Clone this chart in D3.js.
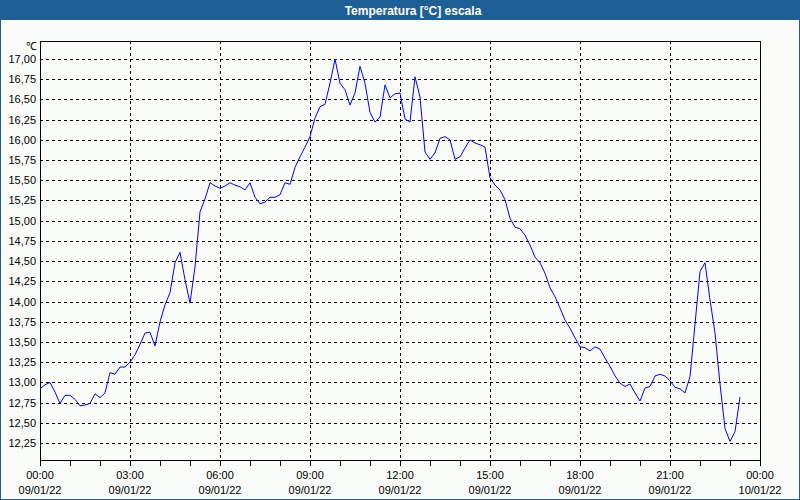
<!DOCTYPE html>
<html>
<head>
<meta charset="utf-8">
<script src="https://cdn.jsdelivr.net/npm/d3@7"></script>
<style>
  html, body { margin: 0; padding: 0; background: #fafcfa; }
  svg { display: block; }
  text { font-family: "Liberation Sans", Arial, sans-serif; }
</style>
</head>
<body>
<svg id="chart" width="800" height="500"></svg>
<script>
// ---- data ----
const title = "Temperatura [°C] escala";
const unitLabel = "℃";
const startTime = "2022-01-09T00:00:00";
const endTime = "2022-01-10T00:00:00";
const stepMinutes = 10;
const temperature = [
  12.92, 12.97, 13.00, 12.88, 12.74, 12.84, 12.84, 12.79, 12.71, 12.72,
  12.74, 12.86, 12.81, 12.87, 13.12, 13.10, 13.19, 13.19, 13.25, 13.34,
  13.47, 13.61, 13.62, 13.45, 13.75, 13.96, 14.11, 14.48, 14.61, 14.27,
  13.98, 14.43, 15.11, 15.27, 15.47, 15.43, 15.40, 15.43, 15.47, 15.44,
  15.42, 15.38, 15.47, 15.29, 15.21, 15.23, 15.29, 15.29, 15.32, 15.47,
  15.45, 15.66, 15.79, 15.91, 16.04, 16.27, 16.41, 16.44, 16.70, 17.00,
  16.70, 16.62, 16.43, 16.58, 16.91, 16.70, 16.34, 16.22, 16.28, 16.68,
  16.52, 16.57, 16.58, 16.26, 16.22, 16.78, 16.53, 15.85, 15.76, 15.84,
  16.02, 16.04, 16.00, 15.76, 15.79, 15.90, 16.00, 15.96, 15.94, 15.91,
  15.53, 15.44, 15.38, 15.26, 15.03, 14.92, 14.90, 14.82, 14.70, 14.55,
  14.48, 14.35, 14.17, 14.06, 13.92, 13.77, 13.67, 13.55, 13.44, 13.43,
  13.39, 13.44, 13.41, 13.30, 13.20, 13.08, 12.99, 12.95, 12.98, 12.87,
  12.77, 12.93, 12.95, 13.08, 13.10, 13.08, 13.02, 12.94, 12.92, 12.87,
  13.07, 13.72, 14.37, 14.48, 14.02, 13.61, 12.98, 12.43, 12.27, 12.39,
  12.82
];
const yTickValues = [12.25, 12.5, 12.75, 13, 13.25, 13.5, 13.75, 14, 14.25, 14.5,
  14.75, 15, 15.25, 15.5, 15.75, 16, 16.25, 16.5, 16.75, 17];
const yDomain = [12.04, 17.223];

// ---- layout ----
const W = 800, H = 500;
const plot = { left: 40, right: 760, top: 41, bottom: 460 };
const svg = d3.select("#chart");

const parse = d3.timeParse("%Y-%m-%dT%H:%M:%S");
const t0 = parse(startTime), t1 = parse(endTime);
const data = temperature.map((v, i) => ({ t: d3.timeMinute.offset(t0, i * stepMinutes), v }));

const x = d3.scaleTime().domain([t0, t1]).range([plot.left, plot.right]);
const y = d3.scaleLinear().domain(yDomain).range([plot.bottom, plot.top]);

// background & window frame
svg.append("rect").attr("x", 0).attr("y", 0).attr("width", W).attr("height", H).attr("fill", "#fafcfa");
svg.append("rect").attr("x", 0.5).attr("y", 0.5).attr("width", W - 1).attr("height", H - 1)
  .attr("fill", "none").attr("stroke", "#1d5f96").attr("stroke-width", 1);
svg.append("rect").attr("x", 0).attr("y", 0).attr("width", W).attr("height", 20).attr("fill", "#1d5f96");
svg.append("text").attr("x", 413).attr("y", 14.5).attr("text-anchor", "middle")
  .attr("fill", "#ffffff").attr("font-weight", "bold").attr("font-size", "12px").text(title);

// grid
const fmtY = v => d3.format(".2f")(v).replace(".", ",");
svg.append("g").selectAll("line").data(yTickValues).join("line")
  .attr("x1", plot.left).attr("x2", plot.right)
  .attr("y1", d => Math.round(y(d)) + 0.5).attr("y2", d => Math.round(y(d)) + 0.5)
  .attr("stroke", "#000").attr("stroke-width", 1).attr("stroke-dasharray", "3,3");

const hourTicks = d3.timeHour.range(t0, d3.timeMinute.offset(t1, 1), 1);
const gridTicks = d3.timeHour.range(d3.timeHour.offset(t0, 3), t1, 3);
svg.append("g").selectAll("line").data(gridTicks).join("line")
  .attr("x1", d => Math.round(x(d)) + 0.5).attr("x2", d => Math.round(x(d)) + 0.5)
  .attr("y1", plot.top).attr("y2", plot.bottom)
  .attr("stroke", "#000").attr("stroke-width", 1).attr("stroke-dasharray", "3,3");

// hour ticks below axis
svg.append("g").selectAll("line").data(hourTicks).join("line")
  .attr("x1", d => Math.round(x(d)) + 0.5).attr("x2", d => Math.round(x(d)) + 0.5)
  .attr("y1", plot.bottom).attr("y2", plot.bottom + 6)
  .attr("stroke", "#000").attr("stroke-width", 1);

// frame
svg.append("rect").attr("x", plot.left + 0.5).attr("y", plot.top + 0.5)
  .attr("width", plot.right - plot.left).attr("height", plot.bottom - plot.top)
  .attr("fill", "none").attr("stroke", "#000").attr("stroke-width", 1);

// y labels
svg.append("g").selectAll("text").data(yTickValues).join("text")
  .attr("x", 36).attr("y", d => y(d) + 4).attr("text-anchor", "end")
  .attr("font-size", "11px").attr("fill", "#000").text(fmtY);
svg.append("text").attr("x", 37).attr("y", 50).attr("text-anchor", "end")
  .attr("font-size", "11px").attr("fill", "#000").text(unitLabel);

// x labels
const labelTicks = d3.timeHour.range(t0, d3.timeMinute.offset(t1, 1), 3);
const fmtT = d3.timeFormat("%H:%M"), fmtD = d3.timeFormat("%d/%m/%y");
const xl = svg.append("g").selectAll("g").data(labelTicks).join("g");
xl.append("text").attr("x", d => x(d)).attr("y", 479).attr("text-anchor", "middle")
  .attr("font-size", "11px").attr("fill", "#000").text(fmtT);
xl.append("text").attr("x", d => x(d)).attr("y", 494).attr("text-anchor", "middle")
  .attr("font-size", "11px").attr("fill", "#000").text(fmtD);

// line
svg.append("path").datum(data)
  .attr("d", d3.line().x(d => x(d.t)).y(d => y(d.v)))
  .attr("fill", "none").attr("stroke", "#0000ff").attr("stroke-width", 1);
</script>
</body>
</html>
